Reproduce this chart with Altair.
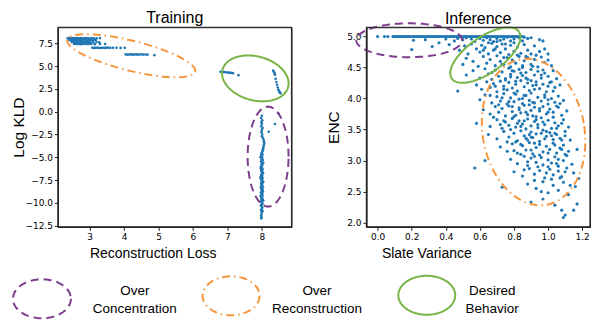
import math
import altair as alt
import pandas as pd

# ---------------- data ----------------
# Training panel: (Reconstruction Loss, Log KLD)
train_overrec = [
    (2.36, 8.05), (2.40, 8.07), (2.44, 8.04), (2.48, 8.06), (2.52, 8.05), (2.56, 8.08), (2.60, 8.04),
    (2.64, 8.06), (2.68, 8.05), (2.72, 8.03), (2.76, 8.07), (2.80, 8.05), (2.85, 8.04), (2.90, 8.06),
    (2.95, 8.05), (3.00, 8.03), (3.06, 8.06), (3.12, 8.04), (3.20, 8.05), (3.30, 8.07),
    (2.40, 7.86), (2.45, 7.84), (2.50, 7.85), (2.55, 7.87), (2.60, 7.83), (2.65, 7.86), (2.70, 7.85),
    (2.75, 7.84), (2.80, 7.86), (2.86, 7.85), (2.92, 7.83), (2.98, 7.86), (3.05, 7.84), (3.12, 7.85),
    (3.18, 7.86),
    (2.48, 7.63), (2.53, 7.61), (2.58, 7.62), (2.63, 7.64), (2.68, 7.60), (2.73, 7.62), (2.78, 7.63),
    (2.84, 7.61), (2.90, 7.62), (2.96, 7.64), (3.02, 7.60), (3.10, 7.62), (3.20, 7.63), (3.28, 7.61),
    (2.55, 7.42), (2.60, 7.44), (2.65, 7.41), (2.70, 7.43), (2.75, 7.40), (2.80, 7.42), (2.86, 7.44),
    (2.92, 7.41), (2.98, 7.43), (3.05, 7.42), (3.15, 7.40), (3.30, 7.43), (3.45, 7.42),
    (3.08, 7.01), (3.13, 6.99), (3.18, 7.00), (3.23, 7.02), (3.28, 6.98), (3.33, 7.00), (3.38, 7.01),
    (3.43, 6.99), (3.48, 7.00), (3.53, 7.02), (3.60, 6.99), (3.68, 7.00), (3.78, 7.01), (3.90, 6.99),
    (4.02, 7.00),
    (4.05, 6.28), (4.10, 6.26), (4.15, 6.27), (4.20, 6.29), (4.25, 6.25), (4.30, 6.27), (4.35, 6.28),
    (4.40, 6.26), (4.45, 6.27), (4.50, 6.29), (4.56, 6.26), (4.62, 6.27), (4.68, 6.25), (4.88, 6.20),
]
train_desired = [
    (6.80, 4.38), (6.85, 4.36), (6.90, 4.34), (6.95, 4.32), (7.00, 4.30), (7.05, 4.28), (7.10, 4.25),
    (7.16, 4.22), (7.32, 4.00),
    (8.33, 4.50), (8.35, 4.35), (8.37, 4.20), (8.38, 4.05), (8.40, 3.60), (8.42, 3.25), (8.44, 2.95),
    (8.46, 2.65), (8.48, 2.40), (8.50, 2.25), (8.52, 2.10), (8.54, 2.02),
]
train_overconc = [
    (8.49, -0.23), (8.38, -1.35), (8.20, -2.20),
    (8.00, -0.45), (7.98, -0.70), (8.01, -0.95), (7.99, -1.15), (8.00, -1.35), (7.98, -1.60),
    (8.02, -1.80), (8.00, -2.00), (7.99, -2.25), (8.01, -2.50), (8.00, -2.70), (8.03, -2.90),
    (8.05, -3.10), (8.06, -3.30), (8.07, -3.45), (8.06, -3.60), (8.05, -3.80), (8.04, -4.00),
    (8.03, -4.15), (8.02, -4.30),
    (8.01, -4.40), (7.99, -4.55), (8.02, -4.70), (7.98, -4.80), (8.00, -4.95), (8.01, -5.05),
    (7.99, -5.20), (8.03, -5.30), (7.98, -5.45), (8.00, -5.55), (8.02, -5.70), (7.99, -5.80),
    (8.01, -5.90), (7.97, -6.05), (8.00, -6.15), (8.02, -6.30), (7.98, -6.40), (8.01, -6.50),
    (7.99, -6.60), (8.03, -6.75), (8.00, -6.85), (7.98, -6.95), (8.01, -7.05), (7.99, -7.15),
    (8.02, -7.30), (7.97, -7.40), (8.00, -7.50), (8.01, -7.60), (7.99, -7.70), (8.02, -7.80),
    (7.98, -7.90), (8.00, -8.00), (8.01, -8.10), (7.99, -8.20), (8.03, -8.30), (7.98, -8.40),
    (8.00, -8.50), (8.02, -8.60), (7.99, -8.70), (8.01, -8.80), (7.97, -8.90), (8.00, -9.00),
    (8.02, -9.10), (7.98, -9.20), (8.01, -9.30), (7.99, -9.40), (8.00, -9.50), (8.02, -9.60),
    (7.98, -9.70), (8.01, -9.80), (7.99, -9.90), (8.00, -10.00), (8.02, -10.10), (7.98, -10.25),
    (8.00, -10.40), (8.01, -10.55), (7.99, -10.70), (7.98, -10.85), (8.00, -11.00), (7.99, -11.20),
    (7.98, -11.40), (7.99, -11.60),
    (7.96, -5.00), (8.04, -5.60), (7.97, -6.20), (8.03, -6.70), (7.96, -7.20), (8.04, -7.70),
    (7.97, -8.25), (8.03, -8.75), (7.96, -9.25), (8.04, -9.75), (7.97, -10.30), (8.02, -10.90),
    (7.98, -11.70),
]

# Inference panel: (Slate Variance, ENC)
inf_top_row_x = [0.0, 0.04, 0.06, 0.09, 0.11, 0.13, 0.15, 0.17, 0.19, 0.21, 0.23, 0.25, 0.27, 0.29,
                 0.31, 0.33, 0.35, 0.37, 0.39, 0.41, 0.43, 0.45, 0.47, 0.49, 0.51, 0.53, 0.55, 0.57,
                 0.59, 0.61, 0.63, 0.65, 0.67, 0.69, 0.71, 0.73, 0.75, 0.77, 0.79, 0.81, 0.83, 0.85,
                 0.10, 0.12, 0.14, 0.16, 0.18, 0.20, 0.22, 0.24, 0.26, 0.28, 0.30, 0.32, 0.34, 0.36,
                 0.38, 0.40, 0.42, 0.44, 0.46, 0.48, 0.50, 0.52, 0.54, 0.56, 0.58, 0.60, 0.62, 0.64,
                 0.66, 0.68, 0.70, 0.72, 0.74, 0.76, 0.78, 0.80, 0.82, 0.84]
inf_top_row_y = 5.0
inf_cloud = [
    (0.20, 4.79), (0.21, 4.94), (0.28, 4.95), (0.32, 4.84), (0.36, 4.90), (0.40, 4.96), (0.42, 4.87),
    (0.45, 4.93), (0.47, 4.97), (0.50, 4.95), (0.52, 4.98), (0.55, 4.96), (0.57, 4.92), (0.60, 4.97),
    (0.62, 4.94), (0.64, 4.98), (0.66, 4.95), (0.68, 4.92), (0.70, 4.97), (0.72, 4.94), (0.74, 4.96),
    (0.76, 4.99), (0.78, 4.93), (0.80, 4.96), (0.83, 4.98), (0.86, 4.99), (0.88, 4.97), (0.90, 4.98),
    (0.95, 4.95), (0.97, 4.93),
    (0.48, 4.78), (0.51, 4.85), (0.53, 4.72), (0.55, 4.88), (0.58, 4.80), (0.60, 4.75), (0.61, 4.86),
    (0.63, 4.82), (0.65, 4.72), (0.67, 4.89), (0.68, 4.78), (0.70, 4.84), (0.72, 4.74), (0.73, 4.88),
    (0.75, 4.80), (0.77, 4.71), (0.78, 4.86), (0.80, 4.76), (0.82, 4.83), (0.84, 4.73), (0.86, 4.87),
    (0.88, 4.78), (0.90, 4.72), (0.92, 4.85), (0.95, 4.76), (0.98, 4.80), (1.00, 4.72),
    (0.50, 4.55), (0.52, 4.65), (0.56, 4.60), (0.59, 4.52), (0.62, 4.68), (0.64, 4.57), (0.66, 4.63),
    (0.69, 4.53), (0.70, 4.69), (0.72, 4.60), (0.74, 4.55), (0.76, 4.66), (0.78, 4.51), (0.79, 4.62),
    (0.81, 4.57), (0.83, 4.68), (0.85, 4.53), (0.86, 4.61), (0.88, 4.66), (0.90, 4.55), (0.92, 4.63),
    (0.94, 4.51), (0.96, 4.67), (0.98, 4.58), (1.00, 4.62), (1.02, 4.53),
    (0.52, 4.38), (0.56, 4.45), (0.60, 4.33), (0.63, 4.48), (0.65, 4.40), (0.67, 4.31), (0.69, 4.46),
    (0.71, 4.36), (0.73, 4.43), (0.75, 4.32), (0.77, 4.49), (0.78, 4.39), (0.80, 4.44), (0.82, 4.34),
    (0.83, 4.47), (0.85, 4.37), (0.87, 4.42), (0.88, 4.31), (0.90, 4.47), (0.92, 4.38), (0.94, 4.44),
    (0.96, 4.33), (0.98, 4.41), (1.00, 4.36), (1.03, 4.45), (1.05, 4.32),
    (0.47, 4.12), (0.58, 4.22), (0.61, 4.15), (0.64, 4.27), (0.66, 4.18), (0.68, 4.24), (0.70, 4.11),
    (0.72, 4.28), (0.74, 4.20), (0.76, 4.14), (0.77, 4.26), (0.79, 4.17), (0.81, 4.23), (0.82, 4.12),
    (0.84, 4.29), (0.86, 4.19), (0.88, 4.25), (0.89, 4.13), (0.91, 4.21), (0.93, 4.27), (0.95, 4.16),
    (0.97, 4.23), (0.99, 4.11), (1.01, 4.26), (1.04, 4.18), (1.07, 4.22),
    (0.60, 3.98), (0.63, 4.06), (0.67, 3.93), (0.70, 4.03), (0.72, 3.96), (0.74, 4.08), (0.76, 3.91),
    (0.78, 4.01), (0.80, 3.95), (0.81, 4.07), (0.83, 3.99), (0.85, 3.92), (0.87, 4.05), (0.89, 3.97),
    (0.90, 4.09), (0.92, 3.93), (0.94, 4.02), (0.96, 3.96), (0.98, 4.06), (1.00, 3.91), (1.02, 4.00),
    (1.04, 3.94), (1.06, 4.04), (1.09, 3.97),
    (0.62, 3.82), (0.66, 3.75), (0.69, 3.87), (0.71, 3.78), (0.73, 3.84), (0.75, 3.72), (0.77, 3.88),
    (0.79, 3.79), (0.81, 3.73), (0.83, 3.85), (0.84, 3.77), (0.86, 3.89), (0.88, 3.74), (0.90, 3.81),
    (0.92, 3.86), (0.93, 3.71), (0.95, 3.80), (0.97, 3.87), (0.99, 3.75), (1.01, 3.83), (1.03, 3.78),
    (1.05, 3.88), (1.08, 3.73), (1.11, 3.80),
    (0.58, 3.60), (0.66, 3.55), (0.70, 3.66), (0.73, 3.52), (0.75, 3.62), (0.77, 3.57), (0.79, 3.68),
    (0.81, 3.54), (0.83, 3.64), (0.85, 3.59), (0.87, 3.51), (0.88, 3.67), (0.90, 3.56), (0.92, 3.63),
    (0.94, 3.53), (0.96, 3.69), (0.98, 3.58), (1.00, 3.65), (1.02, 3.52), (1.04, 3.61), (1.06, 3.56),
    (1.09, 3.66), (1.12, 3.54),
    (0.65, 3.42), (0.70, 3.35), (0.74, 3.47), (0.77, 3.38), (0.80, 3.44), (0.82, 3.32), (0.84, 3.48),
    (0.86, 3.40), (0.88, 3.33), (0.90, 3.46), (0.91, 3.37), (0.93, 3.43), (0.95, 3.31), (0.97, 3.49),
    (0.99, 3.39), (1.01, 3.45), (1.03, 3.34), (1.05, 3.42), (1.07, 3.36), (1.10, 3.47), (1.13, 3.33),
    (0.63, 3.00), (0.72, 3.22), (0.76, 3.15), (0.79, 3.27), (0.82, 3.12), (0.85, 3.24), (0.87, 3.17),
    (0.89, 3.29), (0.91, 3.11), (0.93, 3.21), (0.95, 3.26), (0.97, 3.14), (0.99, 3.23), (1.01, 3.18),
    (1.03, 3.28), (1.05, 3.12), (1.07, 3.20), (1.09, 3.25), (1.12, 3.15), (1.17, 3.18),
    (0.57, 2.88), (0.78, 3.02), (0.82, 2.95), (0.86, 3.07), (0.88, 2.92), (0.90, 3.04), (0.93, 2.97),
    (0.95, 3.09), (0.97, 2.93), (1.00, 3.01), (1.02, 2.96), (1.04, 3.06), (1.06, 2.91), (1.09, 3.00),
    (1.11, 3.08), (1.14, 2.94),
    (0.80, 2.82), (0.85, 2.75), (0.89, 2.87), (0.92, 2.78), (0.95, 2.84), (0.98, 2.72), (1.01, 2.86),
    (1.03, 2.77), (1.06, 2.83), (1.08, 2.74), (1.11, 2.88), (1.15, 2.80), (1.18, 2.71),
    (0.73, 2.57), (0.88, 2.62), (0.93, 2.55), (0.97, 2.66), (1.00, 2.48), (1.03, 2.60), (1.06, 2.52),
    (1.09, 2.65), (1.12, 2.45), (1.16, 2.58),
    (0.90, 2.33), (0.97, 2.38), (1.04, 2.28), (1.08, 2.20), (1.10, 2.12), (1.09, 2.08), (1.15, 2.20),
    (1.17, 2.30),
]
inf_core = [
    (0.78, 4.35), (0.84, 4.41), (0.90, 4.29), (0.96, 4.38), (1.02, 4.27), (0.74, 4.15), (0.80, 4.09),
    (0.86, 4.05), (0.92, 4.15), (0.98, 4.02), (1.03, 4.12), (0.71, 3.90), (0.77, 3.95), (0.83, 3.82),
    (0.89, 3.90), (0.95, 3.84), (1.00, 3.98), (1.06, 3.86), (0.74, 3.64), (0.80, 3.71), (0.86, 3.64),
    (0.91, 3.72), (0.97, 3.62), (1.03, 3.70), (1.08, 3.60), (0.78, 3.50), (0.84, 3.55), (0.89, 3.42),
    (0.94, 3.58), (0.99, 3.47), (1.05, 3.52), (1.10, 3.40), (0.81, 3.30), (0.87, 3.36), (0.92, 3.28),
    (0.98, 3.35), (1.04, 3.25), (1.08, 3.33), (0.84, 3.10), (0.90, 3.17), (0.96, 3.05), (1.00, 3.12),
    (1.06, 3.02), (1.10, 3.10), (0.88, 2.98), (0.94, 2.90), (0.99, 2.80), (1.05, 2.95), (1.10, 2.82),
    (0.92, 2.68), (1.02, 2.70), (1.13, 2.60), (0.65, 4.90), (0.70, 4.92), (0.75, 4.88), (0.80, 4.90),
    (0.85, 4.93), (0.62, 4.78), (0.69, 4.80), (0.74, 4.66), (0.82, 4.70), (0.87, 4.68), (0.93, 4.70),
    (0.67, 4.42), (0.73, 4.55), (0.79, 4.45), (0.85, 4.50), (0.91, 4.52), (0.97, 4.46), (0.69, 4.20),
    (0.75, 4.30), (0.81, 4.28), (0.87, 4.33), (0.93, 4.22), (1.00, 4.20), (0.66, 4.05), (0.73, 4.01),
    (0.79, 3.87), (0.85, 4.00), (0.91, 3.94), (1.07, 3.92), (0.68, 3.70), (0.72, 3.58), (0.82, 3.60),
    (0.87, 3.78), (0.93, 3.66), (1.00, 3.78), (1.04, 3.44), (0.76, 3.30), (0.84, 3.26), (0.90, 3.38),
    (0.96, 3.44), (1.02, 3.40), (1.08, 3.18), (0.80, 3.16), (0.92, 3.07), (1.00, 2.90), (0.86, 2.85),
    (1.07, 2.72), (0.96, 2.50),
]

# Axis ticks
train_xticks = [3, 4, 5, 6, 7, 8]
train_yticks = [-12.5, -10.0, -7.5, -5.0, -2.5, 0.0, 2.5, 5.0, 7.5]
inf_xticks = [0.0, 0.2, 0.4, 0.6, 0.8, 1.0, 1.2]
inf_yticks = [2.0, 2.5, 3.0, 3.5, 4.0, 4.5, 5.0]

# Region annotations: (center x, center y) in data units
train_ellipse_centers = {"conc": (8.18, -4.93), "rec": (4.21, 6.13), "des": (7.81, 3.65)}
inf_ellipse_centers = {"conc": (0.185, 4.94), "rec": (0.915, 3.46), "des": (0.632, 4.70)}
legend_labels = [("Over", "Concentration"), ("Over", "Reconstruction"), ("Desired", "Behavior")]

# ---------------- styling / layout ----------------
BLUE = "#1f77b4"
PURPLE = "#7d3c8c"
ORANGE = "#f5963c"
GREEN = "#78b446"
FRAME = "#262626"
STYLE = {
    "conc": dict(color=PURPLE, strokeDash=[8, 5]),
    "rec": dict(color=ORANGE, strokeDash=[8, 4, 1.5, 4]),
    "des": dict(color=GREEN, strokeDash=[1, 0]),
}
TW, IW, H = 234, 224, 200
T_XD, T_YD = [2.08, 8.86], [-12.64, 9.26]
I_XD, I_YD = [-0.066, 1.246], [1.93, 5.15]


def ellipse_df(cx, cy, rx, ry, ang, kx, ky, n=120):
    a = math.radians(ang)
    rows = []
    for i in range(n + 1):
        t = 2 * math.pi * i / n
        dx = rx * math.cos(t) * math.cos(a) - ry * math.sin(t) * math.sin(a)
        dy = rx * math.cos(t) * math.sin(a) + ry * math.sin(t) * math.cos(a)
        rows.append({"i": i, "x": cx + dx / kx, "y": cy + dy / ky})
    return pd.DataFrame(rows)


def ellipse_layer(df, key, xenc, yenc):
    st = STYLE[key]
    return alt.Chart(df).mark_line(color=st["color"], strokeWidth=2, strokeDash=st["strokeDash"]).encode(
        x=xenc, y=yenc, order="i:Q",
    )


def panel(points, xd, yd, w, title, title_dy, xtitle, ytitle, xticks, yticks, xfmt, xtitle_x, ytitle_x,
          ellipses, size):
    xs = alt.Scale(domain=xd, nice=False, zero=False)
    ys = alt.Scale(domain=yd, nice=False, zero=False)
    xax = alt.Axis(values=xticks, format=xfmt, title=xtitle, titleFontSize=14, titleX=xtitle_x,
                   titleY=31, titleAlign="center", titleBaseline="alphabetic")
    yax = alt.Axis(values=yticks, format=".1f", title=ytitle, titleFontSize=15.5, titleAngle=270,
                   titleX=ytitle_x, titleY=H / 2, titleAlign="center", titleBaseline="middle")
    xenc = alt.X("x:Q", scale=xs, axis=xax)
    yenc = alt.Y("y:Q", scale=ys, axis=yax)
    kx = w / (xd[1] - xd[0])
    ky = H / (yd[1] - yd[0])
    df = pd.DataFrame(points, columns=["x", "y"])
    frame = alt.Chart(pd.DataFrame({"f": [0]})).mark_rect(
        filled=False, stroke=FRAME, strokeWidth=1.2, strokeOpacity=1
    ).encode(x=alt.value(0), x2=alt.value(w), y=alt.value(0), y2=alt.value(H))
    pts = alt.Chart(df).mark_circle(size=size, color=BLUE, opacity=1).encode(x=xenc, y=yenc)
    layers = [pts]
    for key, (cx, cy), rx, ry, ang in ellipses:
        layers.append(ellipse_layer(ellipse_df(cx, cy, rx, ry, ang, kx, ky), key, xenc, yenc))
    layers.append(frame)
    return alt.layer(*layers).properties(
        width=w, height=H,
        title=alt.TitleParams(title, font="Liberation Sans", fontSize=16, fontWeight="normal",
                              offset=1, dy=title_dy, anchor="middle", color="black"),
    )


tc = train_ellipse_centers
training = panel(
    train_overrec + train_desired + train_overconc, T_XD, T_YD, TW, "Training", 0,
    "Reconstruction Loss", "Log KLD", train_xticks, train_yticks, "d", 95, -39,
    [("rec", tc["rec"], 66, 15, -14), ("des", tc["des"], 34, 22, -15), ("conc", tc["conc"], 20.5, 50, 0)],
    size=7,
)
ic = inf_ellipse_centers
inf_points = [(x, inf_top_row_y) for x in inf_top_row_x] + inf_cloud + inf_core
inference = panel(
    inf_points, I_XD, I_YD, IW, "Inference", 8.5, "Slate Variance", "ENC", inf_xticks, inf_yticks,
    ".1f", 60, -33,
    [("conc", ic["conc"], 53, 17, 0), ("des", ic["des"], 41, 18, 35), ("rec", ic["rec"], 51, 74, 10)],
    size=10,
)

# Legend panel in page-pixel units
LX0, LY0, LY1 = 55, 270, 314
lx = alt.X("x:Q", scale=alt.Scale(domain=[LX0, LX0 + TW], nice=False, zero=False), axis=None)
ly = alt.Y("y:Q", scale=alt.Scale(domain=[LY0, LY1], nice=False, zero=False, reverse=True), axis=None)
leg_layers = [
    ellipse_layer(ellipse_df(39, 299, 29, 19.5, 0, 1, 1), "conc", lx, ly),
    ellipse_layer(ellipse_df(228.5, 296, 28.5, 19.5, 0, 1, 1), "rec", lx, ly),
    ellipse_layer(ellipse_df(424.5, 295.5, 28.5, 19.5, 0, 1, 1), "des", lx, ly),
]
text_rows = []
for (l1, l2), cx in zip(legend_labels, [132, 314.5, 490]):
    text_rows.append({"x": cx, "y": 295, "t": l1})
    text_rows.append({"x": cx, "y": 313, "t": l2})
leg_layers.append(
    alt.Chart(pd.DataFrame(text_rows)).mark_text(
        font="Liberation Sans", fontSize=13.5, align="center", baseline="alphabetic", color="black"
    ).encode(x=lx, y=ly, text="t:N")
)
legend = alt.layer(*leg_layers).properties(
    width=TW, height=LY1 - LY0, view=alt.ViewBackground(stroke="transparent")
)

chart = alt.concat(
    training, inference, legend, columns=2, spacing={"row": 43, "column": 75}, bounds="flush"
).properties(
    padding={"left": 0, "top": 0, "right": 0, "bottom": 0}
).configure_view(
    stroke=FRAME, strokeWidth=1
).configure_axis(
    labelFont="DejaVu Sans", labelFontSize=9, labelColor="black", labelPadding=2,
    labelFlush=False, labelOverlap=False,
    tickColor=FRAME, tickSize=3.5, tickWidth=1, domain=True, domainColor=FRAME, domainWidth=1.2,
    grid=False,
    titleFont="Liberation Sans", titleFontWeight="normal", titleColor="black",
)

chart.save("out.html", embed_options={"renderer": "svg", "actions": False})
